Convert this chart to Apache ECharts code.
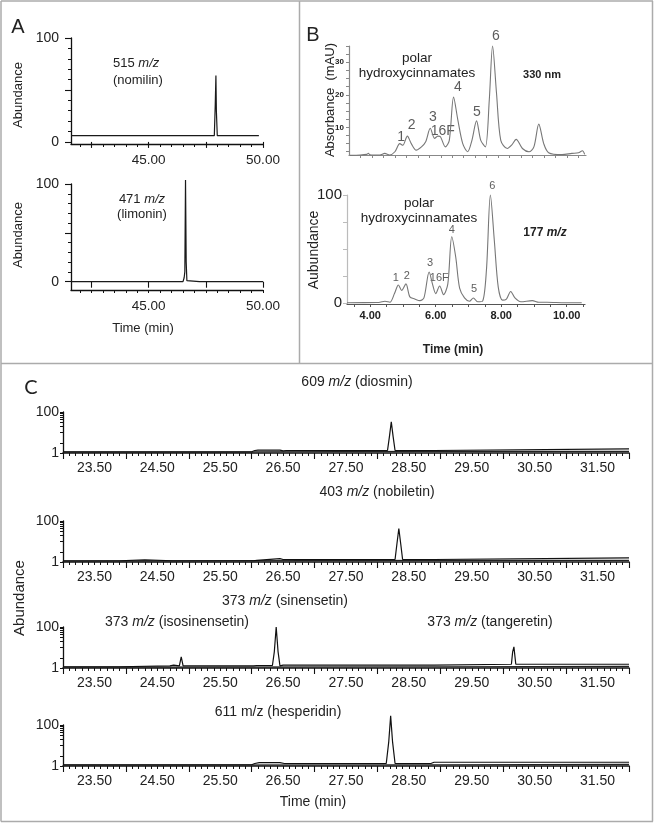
<!DOCTYPE html>
<html><head><meta charset="utf-8">
<script src="https://cdn.jsdelivr.net/npm/echarts@6/dist/echarts.min.js"></script>
<style>html,body{margin:0;padding:0;background:#fff}#c{width:654px;height:824px}</style>
</head><body><div id="c"></div>
<script>
// ---------------- DATA ----------------
// Panel A (time min, abundance %)
const nomilinTrace = [[41.6,6],[42.98,6],[43.05,7.5],[43.12,6],[45.3,6],[45.36,7.5],[45.44,6],[47.14,6],[47.2,7.5],[47.26,6],[47.87,6],[47.91,35],[47.94,64],[47.96,30],[48.0,6],[48.84,6],[48.9,7.5],[48.96,6],[49.82,6]];
const limoninTrace = [[41.6,0],[42.9,0],[42.96,1.5],[43.02,0],[45.38,0],[45.43,1.5],[45.48,0],[46.5,0],[46.55,4],[46.58,10],[46.61,104],[46.64,20],[46.67,1],[46.72,0],[47.22,0],[47.27,1.5],[47.32,0],[48.95,0],[49.0,1],[49.05,0],[50.0,0]];
const aXLabels = [45, 50];
const aYLabels = [0, 100];
// Panel B (time min)
const uv330Trace = [[3.39,1.4],[3.7,1.5],[3.9,1.7],[3.95,2],[4.0,1.6],[4.3,1.5],[4.45,2],[4.6,1.5],[4.76,2.5],[4.91,5],[5.0,4.5],[5.14,7.3],[5.26,5],[5.41,3],[5.57,4],[5.7,5.6],[5.84,9.7],[5.97,6.6],[6.07,7.3],[6.15,7.1],[6.3,4],[6.42,6],[6.55,19.3],[6.68,12.3],[6.83,5],[6.98,2.5],[7.11,6],[7.25,12],[7.38,6],[7.52,4],[7.64,18.5],[7.74,35],[7.86,20.5],[7.99,6],[8.19,3.5],[8.32,4.5],[8.46,6.3],[8.65,3.5],[8.85,2.5],[9.0,4],[9.15,11],[9.3,5],[9.45,2.2],[9.86,1.6],[10.16,2],[10.36,2.2],[10.48,2.8],[10.55,1.7]];
const ms177Trace = [[3.29,0.5],[4.2,0.8],[4.3,1],[4.45,2],[4.6,1],[4.74,9],[4.86,17],[4.96,12],[5.09,18],[5.21,6],[5.36,4],[5.52,2.5],[5.64,5],[5.8,29],[5.9,18],[6.0,9],[6.12,16],[6.24,8],[6.37,18],[6.49,61.5],[6.61,43],[6.73,14],[6.88,5],[7.03,2],[7.15,5],[7.28,1.5],[7.43,2],[7.55,31],[7.67,100],[7.79,58],[7.91,15],[8.04,3],[8.16,4],[8.29,11],[8.42,5],[8.6,1.5],[8.95,2.5],[9.15,1],[9.4,1],[9.96,0.5],[10.46,0.5]];
const uvPeakLabels = [[4.95,7.0,'1'],[5.27,10.7,'2'],[5.92,13.2,'3'],[6.22,8.7,'16F'],[6.68,22.5,'4'],[7.26,14.7,'5'],[7.84,38,'6']];
const msPeakLabels = [[4.78,23,'1'],[5.12,25,'2'],[5.83,37.5,'3'],[6.11,23,'16F'],[6.49,68,'4'],[7.17,13,'5'],[7.73,108,'6']];
const bTopYLabels = [10, 20, 30];
const bBotYLabels = [0, 100];
const bXLabels = [4, 6, 8, 10];
// Panel C (time min, abundance)
const diosminTrace = [[23.0,4],[24.7,4],[24.73,6],[24.76,4],[25.42,4],[25.45,6],[25.48,4],[26.0,4],[26.05,7],[26.1,8],[26.45,8],[26.5,6],[26.55,7],[28.16,7],[28.19,40],[28.22,76],[28.25,40],[28.28,7],[28.9,7],[28.93,11],[32.0,11]];
const diosminTrace2 = [[23.0,3],[26.0,3],[26.05,4],[28.9,5],[32.0,5]];
const nobiletinTrace = [[23.0,4],[23.9,4],[23.92,6],[24.3,6],[24.32,4],[24.74,4],[24.76,7],[24.78,4],[25.47,4],[25.49,7],[25.51,4],[26.03,4],[26.06,7],[26.08,5],[26.1,9],[26.45,9],[26.47,5],[26.5,7],[28.28,7],[28.31,45],[28.34,82],[28.37,45],[28.4,7],[28.9,7],[28.93,11],[32.0,11]];
const nobiletinTrace2 = [[23.0,3],[28.93,5],[32.0,5]];
const m373Trace = [[23.0,4],[23.9,4],[23.93,6],[24.7,6],[24.76,8],[24.78,6],[24.85,6],[24.88,28],[24.91,6],[25.47,6],[25.49,8],[25.51,6],[26.03,6],[26.06,8],[26.08,7],[26.33,7],[26.36,40],[26.39,100],[26.42,40],[26.45,6],[26.5,8],[28.9,8],[28.93,10],[30.13,10],[30.15,40],[30.17,52],[30.2,10],[32.0,10]];
const m373Trace2 = [[23.0,3],[28.93,4],[32.0,5]];
const hesperidinTrace = [[23.0,4],[24.7,4],[24.73,6],[24.76,4],[25.42,4],[25.45,6],[25.48,4],[26.0,4],[26.05,7],[26.08,5],[26.12,9],[26.45,9],[26.48,5],[26.52,7],[28.14,7],[28.18,60],[28.21,122],[28.24,60],[28.28,7],[28.85,7],[28.9,10],[32.0,10]];
const hesperidinTrace2 = [[23.0,3],[28.9,4],[32.0,5]];
const cXLabels = [23.5,24.5,25.5,26.5,27.5,28.5,29.5,30.5,31.5];
const cYLabels = [1, 100];

// ---------------- BUILD ----------------
const FF = "'Liberation Sans', Arial, Helvetica, sans-serif";
const grids=[], xAxes=[], yAxes=[], series=[], graphics=[];
function range(a,b,s){const r=[];for(let v=a;v<=b+1e-9;v+=s)r.push(+v.toFixed(4));return r;}
function grid(g){grids.push(g);return grids.length-1;}
function xa(o){o.position='bottom';xAxes.push(o);return xAxes.length-1;}
function ya(o){o.position='left';yAxes.push(o);return yAxes.length-1;}
function axis(gi,min,max,o){
  return Object.assign({gridIndex:gi,type:'value',min,max,splitLine:{show:false},
    axisLine:{show:true,onZero:false,lineStyle:{color:o.lc||'#111',width:o.lw||1.2}},
    axisTick:{show:o.ticks!==undefined,customValues:o.ticks,length:o.tl||3,lineStyle:{color:o.tc||o.lc||'#111',width:1}},
    axisLabel:o.labels?{show:true,customValues:o.labels,formatter:o.fmt||(v=>String(v)),fontSize:o.fs||13,fontFamily:FF,fontWeight:o.fw||'normal',color:'#222',margin:o.m||8}:{show:false}
  }, o.extra||{});
}
function overlay(gi,min,max,ticks,len,color){
  return {gridIndex:gi,type:'value',min,max,splitLine:{show:false},axisLine:{show:false},
    axisTick:{show:true,customValues:ticks,length:len,lineStyle:{color:color||'#111',width:1.1}},axisLabel:{show:false}};
}
function line(xi,yi,data,color,w,smooth){
  series.push({type:'line',xAxisIndex:xi,yAxisIndex:yi,data,showSymbol:false,symbol:'none',smooth:smooth||false,clip:false,
    lineStyle:{color,width:w},animation:false,silent:true});
}
function peakLabels(xi,yi,data,fs){
  series.push({type:'scatter',xAxisIndex:xi,yAxisIndex:yi,symbolSize:0,clip:false,silent:true,animation:false,
    data:data.map(d=>({value:[d[0],d[1]],name:d[2]})),
    label:{show:true,position:'inside',formatter:p=>p.name,fontSize:fs,fontFamily:FF,color:'#333'}});
}
function txt(text,x,y,fs,o){
  o=o||{};
  graphics.push({type:'text',x,y,rotation:o.rot||0,silent:true,
    style:{text,x:0,y:0,fontSize:fs,fontFamily:o.ff||FF,fontWeight:o.fw||'normal',fill:o.fill||'#222',
      align:o.align||'center',verticalAlign:'middle',textAlign:o.align||'center',textVerticalAlign:'middle',
      rich:{i:{fontStyle:'italic',fontSize:fs,fontFamily:o.ff||FF,fontWeight:o.fw||'normal',fill:o.fill||'#222'}}}});
}
function hline(x1,x2,y){graphics.push({type:'line',silent:true,shape:{x1,y1:y,x2,y2:y},style:{stroke:'#ababab',lineWidth:1.5}});}
function vline(x,y1,y2){graphics.push({type:'line',silent:true,shape:{x1:x,y1,x2:x,y2},style:{stroke:'#ababab',lineWidth:1.5}});}

// Frame
hline(1,653,1); hline(1,653,363.5); hline(1,653,821.5);
vline(1,1,821.5); vline(652.5,1,821.5); vline(299.5,1,363.5);

// ---- Panel A ----
const aXTicks = range(42,50,0.5), aXMajor=[42.5,45,47.5,50];
const aYTicks = range(0,100,10), aYMajor=[0,50,100];
[[38,-2,nomilinTrace],[184,-8.5,limoninTrace]].forEach(([top,ymin,tr])=>{
  const g=grid({left:71,top,width:192,height:106});
  const xi=xa(axis(g,41.6,50,{ticks:aXTicks,labels:aXLabels,fmt:v=>v.toFixed(2),fs:13.5,m:9,lw:1.3}));
  xa(overlay(g,41.6,50,aXMajor,6));
  const yi=ya(axis(g,ymin,100,{ticks:aYTicks,labels:aYLabels,fs:14,m:12,lw:1.3}));
  ya(overlay(g,ymin,100,aYMajor,6));
  line(xi,yi,tr,'#1a1a1a',1.2);
});
txt('A',18,27,20);
txt('515 {i|m/z}',113,63,13,{align:'left'});
txt('(nomilin)',113,80,13,{align:'left'});
txt('471 {i|m/z}',142,199,13);
txt('(limonin)',142,214,13);
txt('Abundance',18,95,13,{rot:Math.PI/2});
txt('Abundance',18,235,13,{rot:Math.PI/2});
txt('Time (min)',143,328,13);

// ---- Panel B ----
{
  const g=grid({left:349,top:46,width:237,height:109});
  const xi=xa(axis(g,3.36,10.59,{ticks:range(3.71,10.5,0.35),lc:'#888',lw:1.2,tl:3}));
  const yi=ya(axis(g,1.5,35,{ticks:range(2.5,35,2.5),labels:bTopYLabels,fs:8,fw:'bold',m:5,lc:'#888',tl:3}));
  line(xi,yi,uv330Trace,'#777',1.1,0.3);
  peakLabels(xi,yi,uvPeakLabels,14);
}
{
  const g=grid({left:347,top:195,width:238,height:109});
  const xi=xa(axis(g,3.29,10.56,{ticks:range(3.5,10.5,0.5),labels:bXLabels,fmt:v=>v.toFixed(2),fs:11,fw:'bold',m:6,lc:'#555',lw:1.2,tl:3}));
  const yi=ya(axis(g,-0.6,100,{ticks:[0,25,50,75,100],labels:bBotYLabels,fs:15,m:5,lc:'#bbb',tl:4}));
  line(xi,yi,ms177Trace,'#777',1.1,0.3);
  peakLabels(xi,yi,msPeakLabels,11);
}
txt('B',313,35,20);
txt('polar',417,58,13.5); txt('hydroxycinnamates',417,73,13.5);
txt('330 nm',542,75,11,{fw:'bold'});
txt('Absorbance  (mAU)',330,100,13,{rot:Math.PI/2});
txt('polar',419,203,13.5); txt('hydroxycinnamates',419,218,13.5);
txt('177 {i|m/z}',545,233,12,{fw:'bold'});
txt('Aubundance',314,250,14,{rot:Math.PI/2});
txt('Time (min)',453,350,12,{fw:'bold'});

// ---- Panel C ----
const cYTicks=[1,25,50,65,75,82,88,93,97,100];
[[412,diosminTrace,diosminTrace2],[521,nobiletinTrace,nobiletinTrace2],[627,m373Trace,m373Trace2],[725,hesperidinTrace,hesperidinTrace2]].forEach(([top,tr,tr2])=>{
  const g=grid({left:63,top,width:566,height:41});
  const xi=xa({gridIndex:g,type:'value',min:23,max:32,interval:1,splitLine:{show:false},
    axisLine:{show:true,onZero:false,lineStyle:{color:'#111',width:1.6}},
    axisTick:{show:true,length:6,lineStyle:{color:'#111',width:1.1}},
    minorTick:{show:true,splitNumber:10,length:3,lineStyle:{color:'#111',width:1}},
    minorSplitLine:{show:false},axisLabel:{show:false}});
  xa({gridIndex:g,type:'value',min:23,max:32,splitLine:{show:false},axisLine:{show:false},axisTick:{show:false},
    axisLabel:{show:true,customValues:cXLabels,formatter:v=>v.toFixed(2),fontSize:14,fontFamily:FF,color:'#222',margin:8}});
  const yi=ya(axis(g,1,100,{ticks:cYTicks,labels:cYLabels,fs:14,m:4,lw:1.3,tl:3}));
  line(xi,yi,tr2,'#222',1.1);
  line(xi,yi,tr,'#111',1.2);
});
txt('C',31,388,20,{ff:"Lato, 'Open Sans', sans-serif"});
txt('609 {i|m/z} (diosmin)',357,382,14);
txt('403 {i|m/z} (nobiletin)',377,492,14);
txt('373 {i|m/z} (sinensetin)',285,601,14);
txt('373 {i|m/z} (isosinensetin)',177,622,14);
txt('373 {i|m/z} (tangeretin)',490,622,14);
txt('611 m/z (hesperidin)',278,712,14);
txt('Abundance',20,598,15,{rot:Math.PI/2});
txt('Time (min)',313,802,14);

const chart = echarts.init(document.getElementById('c'),null,{renderer:'canvas'});
chart.setOption({animation:false,backgroundColor:'#fff',
  grid:grids.map(g=>Object.assign({outerBoundsMode:'none',containLabel:false},g)),
  xAxis:xAxes,yAxis:yAxes,series,graphic:{elements:graphics}});
</script></body></html>
